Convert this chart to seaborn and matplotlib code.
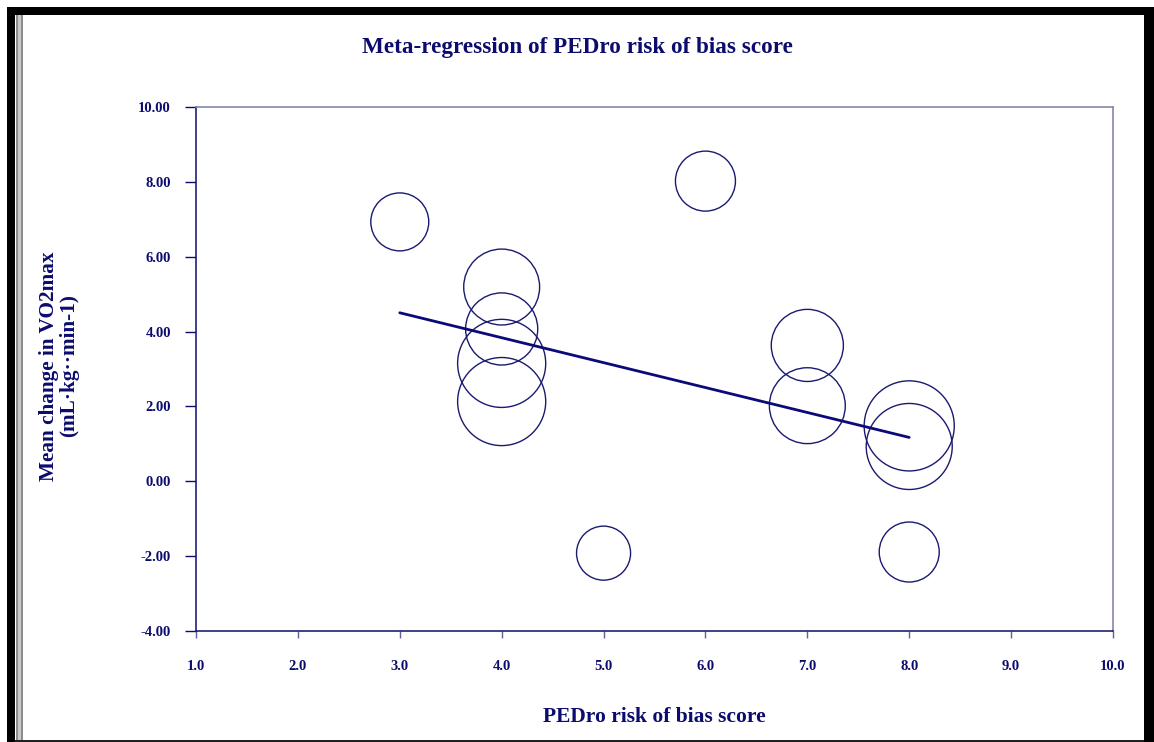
import numpy as np
import pandas as pd
import matplotlib
matplotlib.use("Agg")
import matplotlib.pyplot as plt
from matplotlib.patches import Rectangle
import seaborn as sns

# ---- data ----
pedro_score = [3, 6, 5, 8, 4, 4, 4, 4, 7, 7, 8, 8]
mean_change = [6.93, 8.02, -1.92, -1.89, 5.19, 4.07, 3.15, 2.13, 3.63, 2.02, 1.48, 0.93]
study_weight = [8.4, 9.0, 7.3, 9.0, 14.4, 13.0, 19.4, 19.4, 13.0, 14.4, 20.3, 18.5]
reg_intercept = 6.50
reg_slope = -0.666
x_ticks = [1.0, 2.0, 3.0, 4.0, 5.0, 6.0, 7.0, 8.0, 9.0, 10.0]
y_ticks = [-4.0, -2.0, 0.0, 2.0, 4.0, 6.0, 8.0, 10.0]
title = "Meta-regression of PEDro risk of bias score"
xlabel = "PEDro risk of bias score"
ylabel = "Mean change in VO2max\n(mL\u00b7kg\u00b7\u00b7min-1)"

W, H = 1154, 742
sns.set_style("white")
plt.rcParams['font.family'] = ['Liberation Serif', 'DejaVu Serif']
plt.rcParams['font.weight'] = 'bold'

navy = '#0c0c6e'
fig = plt.figure(figsize=(W / 100, H / 100), dpi=100)
fig.patch.set_facecolor('white')
ax = fig.add_axes([196 / W, 1 - 631 / H, (1113 - 196) / W, (631 - 107) / H])

df = pd.DataFrame({"x": pedro_score, "y": mean_change, "w": study_weight})
k = 207.36
wmin, wmax = min(study_weight), max(study_weight)
sns.scatterplot(data=df, x="x", y="y", size="w", sizes=(k * wmin, k * wmax),
                size_norm=(wmin, wmax), facecolor='none', edgecolor='#1a1a70',
                linewidth=1.0, legend=False, ax=ax, zorder=3)

xl = np.array([min(pedro_score), max(pedro_score)], dtype=float)
reg = pd.DataFrame({"x": xl, "y": reg_intercept + reg_slope * xl})
sns.lineplot(data=reg, x="x", y="y", color='#0a0a78', linewidth=2.0, ax=ax, zorder=4)

ax.set_xlim(1, 10)
ax.set_ylim(-4, 10)
ax.set_xticks(x_ticks)
ax.set_xticklabels([f"{v:.1f}" for v in x_ticks])
ax.set_yticks(y_ticks)
ax.set_yticklabels([f"{v:.2f}" for v in y_ticks])
ax.tick_params(axis='y', direction='out', length=8, width=1, color=navy,
               labelsize=10.5, labelcolor=navy, pad=10, left=True)
ax.tick_params(axis='x', direction='out', length=5, width=1, color='#6060a0',
               labelsize=10.5, labelcolor=navy, pad=16, bottom=True)
for lab in ax.get_xticklabels() + ax.get_yticklabels():
    lab.set_fontweight('bold')

for side in ['left', 'bottom']:
    ax.spines[side].set_color('#202070')
    ax.spines[side].set_linewidth(1.2)
for side in ['top', 'right']:
    ax.spines[side].set_color('#8585aa')
    ax.spines[side].set_linewidth(1.2)
ax.set_xlabel('')
ax.set_ylabel('')

fig.text(577 / W, 1 - 48 / H, title, ha='center', va='center', fontsize=16.7,
         fontweight='bold', color=navy)
fig.text(654 / W, 1 - 717 / H, xlabel, ha='center', va='center', fontsize=15.5,
         fontweight='bold', color=navy)
fig.text(59 / W, 1 - 366 / H, ylabel,
         ha='center', va='center', rotation=90, fontsize=15.3, fontweight='bold',
         color=navy, linespacing=1.0)

def prect(x0, y0, x1, y1, color):
    fig.add_artist(Rectangle((x0 / W, 1 - y1 / H), (x1 - x0) / W, (y1 - y0) / H,
                             transform=fig.transFigure, facecolor=color,
                             edgecolor='none', zorder=10))

prect(7, 7, 1154, 15, 'black')
prect(7, 7, 15, 742, 'black')
prect(1144, 7, 1154, 742, 'black')
prect(16, 15, 23, 742, '#8c8c8c')
prect(18, 15, 21, 742, '#c8c8c8')
prect(15, 740, 1144, 742, '#202020')

fig.savefig("out.png", dpi=100)
